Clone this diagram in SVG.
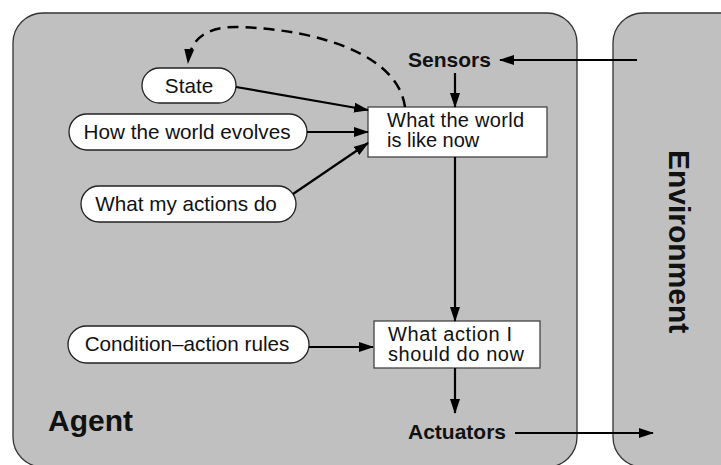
<svg xmlns="http://www.w3.org/2000/svg" width="721" height="465" viewBox="0 0 721 465">
<style>
.panel{fill:#c0c0c0;stroke:#333;stroke-width:1.3}
.pill{fill:#fff;stroke:#222;stroke-width:1.3}
.box{fill:#fff;stroke:#444;stroke-width:1.3}
.t{font-family:"Liberation Sans",Arial,sans-serif;font-size:20.7px;fill:#111}
.bt{font-family:"Liberation Sans",Arial,sans-serif;font-size:20px;fill:#111}
.b{font-family:"Liberation Sans",Arial,sans-serif;font-weight:bold;fill:#111}
.c{stroke:#000;stroke-width:2.2;fill:none;marker-end:url(#ah)}
.d{stroke:#000;stroke-width:2.5;fill:none;stroke-dasharray:11 7;marker-end:url(#ah)}
</style>
<defs>
<marker id="ah" viewBox="0 0 15 10" refX="14" refY="5" markerWidth="15" markerHeight="10" markerUnits="userSpaceOnUse" orient="auto">
<path d="M0,0 L15,5 L0,10 z" fill="#000"/>
</marker>
</defs>
<rect width="721" height="465" fill="#fff"/>
<g id="agent">
<rect class="panel" x="13" y="13" width="564" height="454" rx="30"/>
<text class="b" x="48" y="431" font-size="30">Agent</text>
</g>
<g id="environment">
<rect class="panel" x="613" y="13" width="200" height="454" rx="30"/>
<text class="b" font-size="30" transform="translate(669,150) rotate(90)">Environment</text>
</g>
<g id="sensors"><text class="b" x="408" y="67" font-size="21">Sensors</text></g>
<g id="actuators"><text class="b" x="408" y="439" font-size="21">Actuators</text></g>
<g id="state">
<rect class="pill" x="142" y="68" width="94" height="35" rx="17.5"/>
<text class="t" x="189" y="92.5" text-anchor="middle">State</text>
</g>
<g id="how-world-evolves">
<rect class="pill" x="69" y="114" width="238" height="36" rx="18"/>
<text class="t" x="187" y="139" text-anchor="middle">How the world evolves</text>
</g>
<g id="what-my-actions-do">
<rect class="pill" x="81" y="186" width="215" height="36" rx="18"/>
<text class="t" x="186" y="211" text-anchor="middle">What my actions do</text>
</g>
<g id="condition-action-rules">
<rect class="pill" x="68" y="326" width="241" height="37" rx="18.5"/>
<text class="t" x="187" y="351" text-anchor="middle">Condition–action rules</text>
</g>
<g id="world-now">
<rect class="box" x="368" y="107" width="179" height="50"/>
<text class="bt" x="387" y="127" textLength="137" lengthAdjust="spacing">What the world</text>
<text class="bt" x="387" y="147">is like now</text>
</g>
<g id="action-now">
<rect class="box" x="374" y="321" width="166" height="47"/>
<text class="bt" x="388" y="341" textLength="124" lengthAdjust="spacing">What action I</text>
<text class="bt" x="388" y="361" textLength="136" lengthAdjust="spacing">should do now</text>
</g>
<g id="connectors">
<path class="c" d="M637,60 L500,60"/>
<path class="c" d="M455,73 L455,107"/>
<path class="c" d="M455,157 L455,321"/>
<path class="c" d="M455,368 L455,413"/>
<path class="c" d="M515,433 L653,433"/>
<path class="c" d="M236,87 L368,110"/>
<path class="c" d="M307,132 L368,132"/>
<path class="c" d="M293,194 L368,143"/>
<path class="c" d="M309,347 L373,347"/>
<path class="d" d="M405,107 C398,55 320,30 240,27 C205,26 190,40 188,63"/>
</g>
</svg>
